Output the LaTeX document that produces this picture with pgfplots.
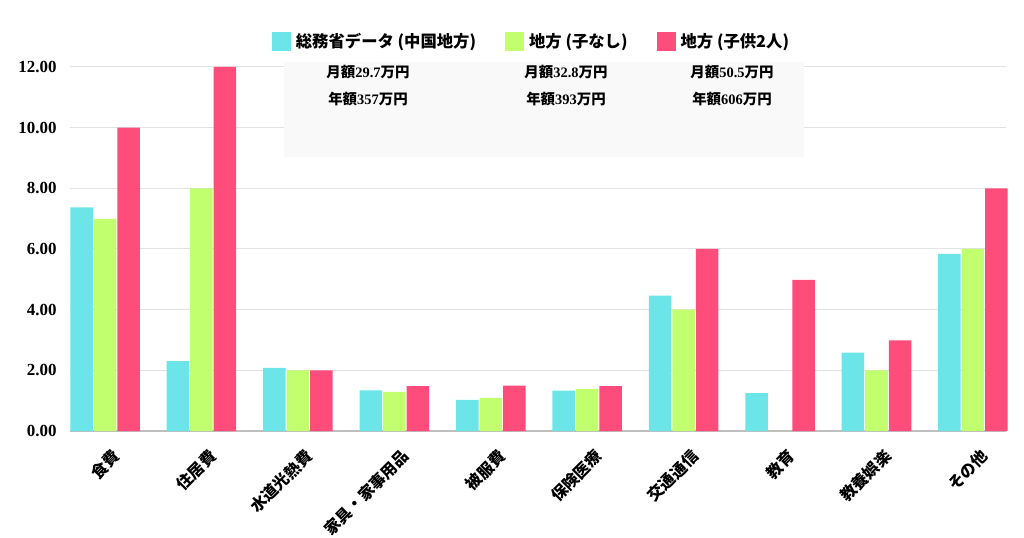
\documentclass[border=0pt]{standalone}
\usepackage{fontspec}
\setmainfont{Liberation Serif}
\newfontfamily\cjk{Noto Sans CJK JP}
\usepackage{pgfplots}
\pgfplotsset{compat=1.18}
\definecolor{cyanc}{RGB}{108,229,232}
\definecolor{greenc}{RGB}{193,255,110}
\definecolor{pinkc}{RGB}{255,77,123}
\definecolor{gridc}{RGB}{226,226,226}
\definecolor{axisc}{RGB}{190,190,190}
\definecolor{boxc}{RGB}{249,249,249}
\newcommand{\J}[1]{{\cjk #1}}
\begin{document}
\begin{tikzpicture}
\begin{axis}[
  at={(0,0)}, anchor=south west,
  scale only axis, width=936bp, height=364bp,
  xmin=-0.363, xmax=9.343, ymin=0, ymax=12,
  clip=false,
  ybar=1bp, bar width=22.5bp,
  axis x line*=bottom, axis y line*=left,
  y axis line style={draw=none},
  x axis line style={-, draw=axisc, line width=1.2bp},
  major tick length=0pt,
  ytick={0,2,4,6,8,10,12},
  ymajorgrids, grid style={draw=gridc, line width=1bp},
  yticklabel style={font=\fontsize{17}{17}\selectfont\bfseries, xshift=-10bp},
  /pgf/number format/.cd, fixed, fixed zerofill, precision=2, assume math mode=true,
  /pgfplots/.cd,
  xtick={0,...,9},
  xticklabels={食費,住居費,水道光熱費,家具・家事用品,被服費,保険医療,交通通信,教育,教養娯楽,その他},
  xticklabel style={font=\cjk\bfseries\fontsize{16}{16}\selectfont, rotate=45, anchor=east, xshift=-4bp, yshift=-24bp},
  legend image code/.code={\fill[#1] (0bp,-9.5bp) rectangle (19bp,9.5bp);},
  legend style={draw=none, fill=none, at={(0.2123,1.0714)}, anchor=west,
    legend columns=3, font=\cjk\bfseries\fontsize{16.4}{16.4}\selectfont,
    /tikz/every even column/.append style={column sep=24bp},
    nodes={inner sep=5bp}},
]
\addplot[fill=cyanc, draw=none] coordinates {(0,7.37) (1,2.30) (2,2.08) (3,1.34) (4,1.03) (5,1.33) (6,4.46) (7,1.25) (8,2.58) (9,5.84)};
\addplot[fill=greenc, draw=none] coordinates {(0,6.99) (1,8.0) (2,2.0) (3,1.29) (4,1.09) (5,1.38) (6,4.0) (7,0) (8,2.0) (9,6.0)};
\addplot[fill=pinkc, draw=none] coordinates {(0,10.0) (1,12.0) (2,2.0) (3,1.48) (4,1.5) (5,1.48) (6,6.0) (7,4.98) (8,2.99) (9,8.0)};
\legend{総務省データ (中国地方),地方 (子なし),地方 (子供2人)}
\end{axis}
\fill[boxc] (214bp,274bp) rectangle (734bp,369bp);
\begin{scope}[every node/.style={font=\bfseries\fontsize{14.5}{14.5}\selectfont, inner sep=0pt}]
\node at (298bp,359bp) {\J{月額}29.7\J{万円}};
\node at (298bp,332bp) {\J{年額}357\J{万円}};
\node at (496bp,359bp) {\J{月額}32.8\J{万円}};
\node at (496bp,332bp) {\J{年額}393\J{万円}};
\node at (662bp,359bp) {\J{月額}50.5\J{万円}};
\node at (662bp,332bp) {\J{年額}606\J{万円}};
\end{scope}
\pgfresetboundingbox
\path[use as bounding box] (-70bp,-107bp) rectangle (954bp,431bp);
\end{tikzpicture}
\end{document}
